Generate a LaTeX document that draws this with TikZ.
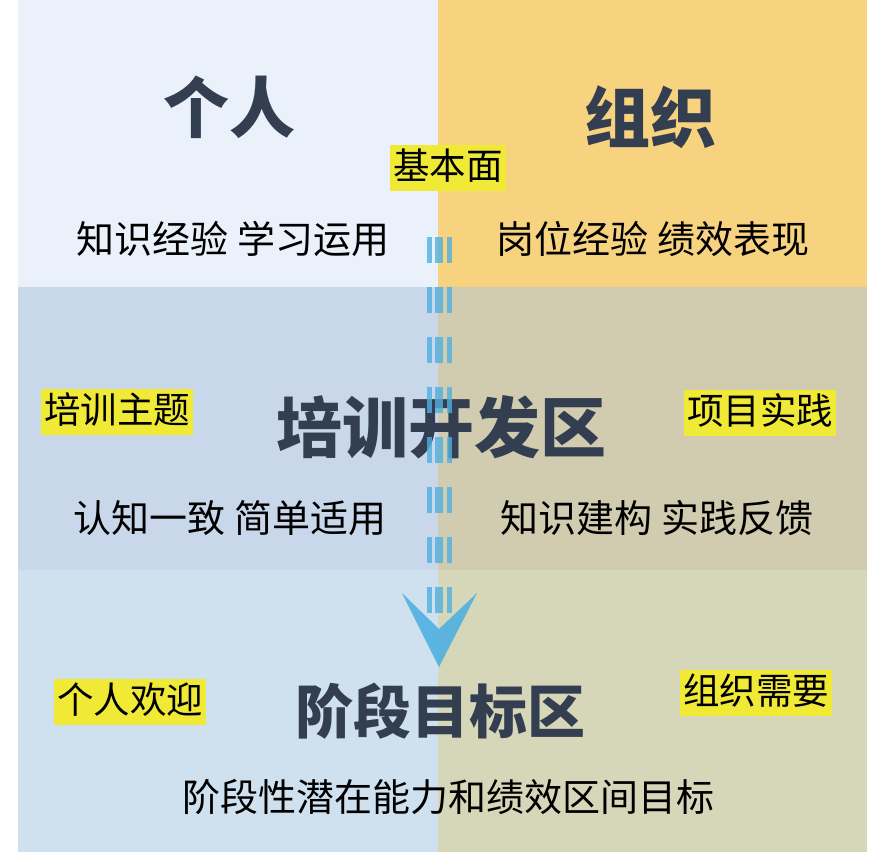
\documentclass[tikz,border=0pt]{standalone}
\usepackage{fontspec}
\newfontfamily\cjk{Noto Sans CJK SC}
\usetikzlibrary{positioning}
\definecolor{paneTL}{HTML}{EBF1FA}
\definecolor{paneTR}{HTML}{F7D380}
\definecolor{paneML}{HTML}{C8D7EA}
\definecolor{paneMR}{HTML}{D1CBAF}
\definecolor{paneBL}{HTML}{CFE0EE}
\definecolor{paneBR}{HTML}{D6D7B8}
\definecolor{titlecol}{HTML}{333F50}
\definecolor{tagcol}{HTML}{F0EA37}
\definecolor{flowcol}{HTML}{4FB0E0}
\begin{document}
\begin{tikzpicture}[x=1pt, y=-1pt, line join=round,
	title/.style={font=\cjk\bfseries\fontsize{66pt}{70pt}\selectfont, text=titlecol, inner sep=0pt},
	subtitle/.style={font=\cjk\bfseries\fontsize{58pt}{62pt}\selectfont, text=titlecol, inner sep=0pt},
	phrase/.style={font=\cjk\fontsize{38pt}{41pt}\selectfont, text=black, inner sep=0pt},
	tag/.style={font=\cjk\fontsize{36.5pt}{40pt}\selectfont, fill=tagcol, text=black, inner xsep=3pt, inner ysep=4pt, text height=30pt, text depth=8pt},
	flow/.style={draw=flowcol, opacity=0.8, dash pattern=on 26pt off 24pt}]
	\useasboundingbox (0,0) rectangle (880,855);
	% panes
	\fill[paneTL] (18,0) rectangle (438,287);
	\fill[paneTR] (438,0) rectangle (867,287);
	\fill[paneML] (18,287) rectangle (438,570);
	\fill[paneMR] (438,287) rectangle (867,570);
	\fill[paneBL] (18,570) rectangle (438,852);
	\fill[paneBR] (438,570) rectangle (867,852);
	% top band
	\node[title] (person) at (229,107) {个人};
	\node[title] (org) at (650,117) {组织};
	\node[tag] (base) at (448,168) {基本面};
	\node[phrase] (learn) at (233,239) {知识经验 学习运用};
	\node[phrase] (post) at (653,239) {岗位经验 绩效表现};
	% middle band
	\node[title] (train) at (441,427) {培训开发区};
	\node[tag] (topic) at (117,412) {培训主题};
	\node[tag] (project) at (760,413) {项目实践};
	\node[phrase] (agree) at (230,518) {认知一致 简单适用};
	\node[phrase] (build) at (657,518) {知识建构 实践反馈};
	% bottom band
	\node[subtitle] (goal) at (440,711) {阶段目标区};
	\node[tag] (welcome) at (130,702) {个人欢迎};
	\node[tag] (need) at (756,693) {组织需要};
	\node[phrase] (range) at (448,797) {阶段性潜在能力和绩效区间目标};
	% flow down the middle
	\coordinate (flowtop) at (439,237);
	\coordinate (flowend) at (439,613);
	\foreach \dx/\w in {-9.5/5, 0/8, 10.5/5}
		\draw[flow, line width=\w pt] ([xshift=\dx pt]flowtop) -- ([xshift=\dx pt]flowend);
	\coordinate (tip) at (439,667);
	\fill[flowcol, opacity=0.9] (402,593) -- (tip) -- (477,593) -- (439,629) -- cycle;
\end{tikzpicture}
\end{document}
